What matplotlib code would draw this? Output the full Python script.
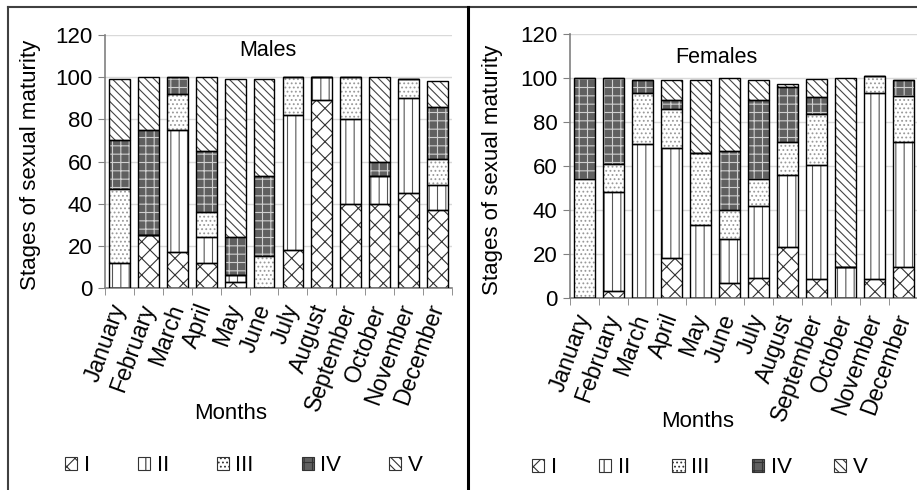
import matplotlib
matplotlib.use("Agg")
import matplotlib.pyplot as plt
from matplotlib.patches import Patch
from matplotlib.lines import Line2D
import numpy as np

plt.rcParams['font.family'] = ['Liberation Sans', 'DejaVu Sans']
plt.rcParams['hatch.linewidth'] = 0.8

# Datos
months = ["January", "February", "March", "April", "May", "June", "July",
          "August", "September", "October", "November", "December"]
stages = ["I", "II", "III", "IV", "V"]

males_I = [0, 25, 17, 12, 3, 0, 18, 89, 40, 40, 45, 37]
males_II = [12, 0, 58, 12, 3, 0, 64, 11, 40, 13, 45, 12]
males_III = [35, 0, 17, 12, 0, 15, 18, 0, 20, 0, 9, 12]
males_IV = [23, 50, 8, 29, 18, 38, 0, 0, 0, 7, 0, 25]
males_V = [29, 25, 0, 35, 75, 46, 0, 0, 0, 40, 0, 12]

females_I = [0, 3, 0, 18, 0, 7, 9, 23, 8.5, 0, 8.5, 14]
females_II = [0, 45, 70, 50, 33, 20, 33, 33, 52, 14, 84.5, 57]
females_III = [54, 13, 23, 18, 33, 13, 12, 15, 23, 0, 8, 21]
females_IV = [46, 39, 6, 4, 0, 27, 36, 25, 8, 0, 0, 7]
females_V = [0, 0, 0, 9, 33, 33, 9, 1.5, 8, 86, 0, 0]

# estilo de cada estadio: (relleno, color del rayado, rayado)
styles = [
    ("white", "#333333", "xx"),
    ("white", "#555555", "||"),
    ("white", "#999999", "...."),
    ("#606060", "#d0d0d0", "++"),
    ("white", "#444444", "\\\\\\\\"),
]

fig = plt.figure(figsize=(9.17, 4.9), dpi=100)
ax1 = fig.add_axes([0.1145, 0.4122, 0.3784, 0.5163])
ax2 = fig.add_axes([0.6216, 0.3918, 0.3800, 0.5388])


def draw_panel(ax, series, title, title_pos):
    x = np.arange(len(months))
    bottom = np.zeros(len(months))
    for vals, (fc, hc, hatch) in zip(series, styles):
        vals = np.array(vals, dtype=float)
        ax.bar(x, vals, 0.72, bottom=bottom, color=fc, edgecolor=hc,
               hatch=hatch, linewidth=0, zorder=2)
        ax.bar(x, vals, 0.72, bottom=bottom, fill=False, edgecolor="black",
               linewidth=1.0, zorder=3)
        bottom += vals
    ax.set_xlim(-0.5, len(months) - 0.5)
    ax.set_ylim(0, 120)
    ax.set_yticks(range(0, 121, 20))
    ax.set_xticks(x)
    ax.set_xticklabels(months, rotation=70, ha="right", va="center",
                       rotation_mode="anchor", fontsize=16.5)
    ax.set_xticks(np.arange(-0.5, len(months), 1), minor=True)
    ax.tick_params(axis="x", which="major", length=0, pad=12)
    ax.tick_params(axis="x", which="minor", length=5, color="#808080")
    ax.tick_params(axis="y", labelsize=16, length=5, color="#808080", pad=4)
    ax.grid(axis="y", color="#d9d9d9", linewidth=1, zorder=0)
    ax.set_axisbelow(True)
    for s in ["top", "right"]:
        ax.spines[s].set_visible(False)
    for s in ["left", "bottom"]:
        ax.spines[s].set_color("#808080")
        ax.spines[s].set_linewidth(1.2)
    ax.text(title_pos[0], title_pos[1], title, transform=ax.transAxes,
            ha="center", va="center", fontsize=15.5)


draw_panel(ax1, [males_I, males_II, males_III, males_IV, males_V],
           "Males", (0.47, 0.94))
draw_panel(ax2, [females_I, females_II, females_III, females_IV, females_V],
           "Females", (0.42, 0.91))

# Etiquetas de ejes
fig.text(0.033, 0.663, "Stages of sexual maturity", rotation=90,
         ha="center", va="center", fontsize=16)
fig.text(0.5376, 0.653, "Stages of sexual maturity", rotation=90,
         ha="center", va="center", fontsize=16)
fig.text(0.251, 0.157, "Months", ha="center", va="center", fontsize=16)
fig.text(0.761, 0.139, "Months", ha="center", va="center", fontsize=16)

# Leyendas
handles = [Patch(facecolor=fc, edgecolor=hc, hatch=h, linewidth=0.8)
           for fc, hc, h in styles]
for cx, cy, sp in [(0.266, 0.049, 2.15), (0.763, 0.045, 1.9)]:
    leg = fig.legend(handles, stages, ncol=5, loc="center",
                     bbox_to_anchor=(cx, cy), frameon=False, fontsize=16,
                     handlelength=0.55, handleheight=0.55, handletextpad=0.3,
                     columnspacing=sp)
    for p in leg.get_patches():
        p.set_edgecolor("#333333")

# Marcos
fig.add_artist(Line2D([8 / 917, 1], [1 - 7 / 490] * 2, color="#404040",
                      linewidth=1.5, transform=fig.transFigure))
fig.add_artist(Line2D([8 / 917] * 2, [0, 1 - 7 / 490], color="#404040",
                      linewidth=1.5, transform=fig.transFigure))
fig.add_artist(Line2D([468 / 917] * 2, [0, 1 - 7 / 490], color="black",
                      linewidth=2.2, transform=fig.transFigure))

fig.savefig("out.png", dpi=100)
